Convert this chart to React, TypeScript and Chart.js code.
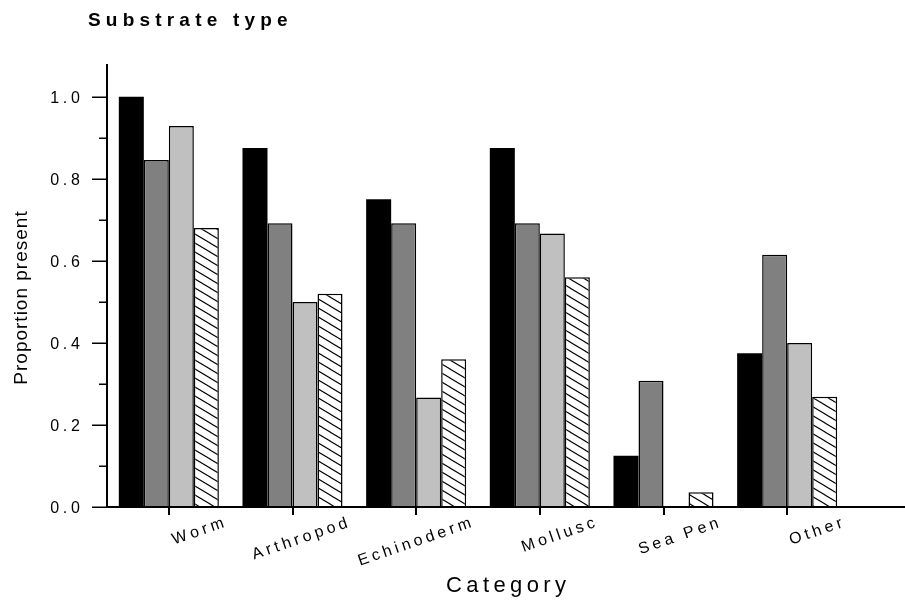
import React, { useEffect, useRef } from 'react';
import { Chart, registerables } from 'chart.js';

Chart.register(...registerables);

const categories = ['Worm', 'Arthropod', 'Echinoderm', 'Mollusc', 'Sea Pen', 'Other'];
const seriesBlack = [1.0, 0.875, 0.75, 0.875, 0.125, 0.375];
const seriesDark = [0.846, 0.692, 0.692, 0.692, 0.308, 0.615];
const seriesLight = [0.929, 0.5, 0.267, 0.667, 0, 0.4];
const seriesHatch = [0.68, 0.52, 0.36, 0.56, 0.036, 0.269];

const yMajorTicks = [0, 0.2, 0.4, 0.6, 0.8, 1.0];
const yTickLabels = ['0.0', '0.2', '0.4', '0.6', '0.8', '1.0'];
const yMinorTicks = [0.1, 0.3, 0.5, 0.7, 0.9];

const titleText = 'Substrate type';
const xTitleText = 'Category';
const yTitleText = 'Proportion present';

const FONT = '"Liberation Sans", Arial, sans-serif';

function spacedWidth(ctx: CanvasRenderingContext2D, text: string, spacing: number) {
  let w = 0;
  for (let i = 0; i < text.length; i++) {
    w += ctx.measureText(text[i]).width;
    if (i < text.length - 1) w += spacing;
  }
  return w;
}

function drawSpaced(
  ctx: CanvasRenderingContext2D,
  text: string,
  x: number,
  y: number,
  spacing: number,
  align: 'left' | 'right' | 'center'
) {
  const total = spacedWidth(ctx, text, spacing);
  let cx = x;
  if (align === 'right') cx = x - total;
  else if (align === 'center') cx = x - total / 2;
  ctx.textAlign = 'left';
  for (let i = 0; i < text.length; i++) {
    ctx.fillText(text[i], cx, y);
    cx += ctx.measureText(text[i]).width + spacing;
  }
}

function makeHatch(): CanvasPattern | string {
  const w = 15;
  const h = 9;
  const c = document.createElement('canvas');
  c.width = w;
  c.height = h;
  const g = c.getContext('2d');
  if (!g) return '#ffffff';
  g.fillStyle = '#ffffff';
  g.fillRect(0, 0, w, h);
  g.strokeStyle = '#000000';
  g.lineWidth = 1.1;
  g.beginPath();
  g.moveTo(-w, -h);
  g.lineTo(2 * w, 2 * h);
  g.moveTo(-w, 0);
  g.lineTo(w, 2 * h);
  g.moveTo(0, -h);
  g.lineTo(2 * w, h);
  g.stroke();
  const p = g.createPattern(c, 'repeat');
  return p || '#ffffff';
}

const decorPlugin = {
  id: 'decor',
  afterDraw(chart: any) {
    const ctx: CanvasRenderingContext2D = chart.ctx;
    const area = chart.chartArea;
    const xs = chart.scales.x;
    const ys = chart.scales.y;
    const W = chart.width;
    ctx.save();
    ctx.fillStyle = '#000';
    ctx.strokeStyle = '#000';

    // axes
    ctx.lineWidth = 2;
    ctx.beginPath();
    ctx.moveTo(area.left, area.top);
    ctx.lineTo(area.left, area.bottom);
    ctx.moveTo(area.left - 1, area.bottom);
    ctx.lineTo(W, area.bottom);
    ctx.stroke();

    // y ticks
    ctx.lineWidth = 1.5;
    ctx.beginPath();
    yMajorTicks.forEach((v) => {
      const y = Math.round(ys.getPixelForValue(v)) + 0.25;
      ctx.moveTo(area.left - 15, y);
      ctx.lineTo(area.left, y);
    });
    yMinorTicks.forEach((v) => {
      const y = Math.round(ys.getPixelForValue(v)) + 0.25;
      ctx.moveTo(area.left - 8, y);
      ctx.lineTo(area.left, y);
    });
    ctx.stroke();

    // x ticks
    ctx.lineWidth = 2;
    ctx.beginPath();
    categories.forEach((_, i) => {
      const x = Math.round(xs.getPixelForTick(i));
      ctx.moveTo(x, area.bottom);
      ctx.lineTo(x, area.bottom + 8);
    });
    ctx.stroke();

    // y tick labels
    ctx.font = `16px ${FONT}`;
    ctx.textBaseline = 'alphabetic';
    yMajorTicks.forEach((v, i) => {
      const y = ys.getPixelForValue(v);
      drawSpaced(ctx, yTickLabels[i], 80, y + 6, 3.8, 'right');
    });

    // x tick labels (rotated, right-anchored)
    ctx.font = `16px ${FONT}`;
    const ang = (-19 * Math.PI) / 180;
    categories.forEach((lab, i) => {
      const x = xs.getPixelForTick(i);
      ctx.save();
      ctx.translate(x + 56, area.bottom + 20);
      ctx.rotate(ang);
      drawSpaced(ctx, lab, 0, 0, 3.7, 'right');
      ctx.restore();
    });

    // title
    ctx.font = `bold 19px ${FONT}`;
    drawSpaced(ctx, titleText, 88, 26, 5.2, 'left');

    // x title
    ctx.font = `22px ${FONT}`;
    drawSpaced(ctx, xTitleText, (area.left + W) / 2, 592, 4.4, 'center');

    // y title
    ctx.font = `19px ${FONT}`;
    ctx.save();
    ctx.translate(27, 298);
    ctx.rotate(-Math.PI / 2);
    drawSpaced(ctx, yTitleText, 0, 0, 1, 'center');
    ctx.restore();

    ctx.restore();
  },
};

export default function App() {
  const ref = useRef<HTMLCanvasElement | null>(null);
  useEffect(() => {
    if (!ref.current) return;
    const hatch = makeHatch();
    const chart = new Chart(ref.current, {
      type: 'bar',
      data: {
        labels: categories,
        datasets: [
          { data: seriesBlack, backgroundColor: '#000000', borderColor: '#000000', borderWidth: 0 },
          { data: seriesDark, backgroundColor: '#808080', borderColor: '#000000', borderWidth: 1.5 },
          { data: seriesLight, backgroundColor: '#c0c0c0', borderColor: '#000000', borderWidth: 1.5 },
          { data: seriesHatch, backgroundColor: hatch as any, borderColor: '#000000', borderWidth: 1.5 },
        ],
      },
      options: {
        responsive: false,
        animation: false,
        devicePixelRatio: 1,
        layout: { padding: { left: 107, top: 64, right: 56, bottom: 94 } },
        datasets: { bar: { categoryPercentage: 0.809, barPercentage: 1.0 } },
        plugins: { legend: { display: false }, tooltip: { enabled: false }, title: { display: false } },
        scales: {
          x: { display: false, offset: true },
          y: { display: false, min: 0, max: 1.08 },
        },
      },
      plugins: [decorPlugin],
    });
    return () => chart.destroy();
  }, []);
  return (
    <div style={{ position: 'fixed', left: 0, top: 0, width: 905, height: 601, overflow: 'hidden', background: '#fff' }}>
      <canvas ref={ref} width={905} height={601} style={{ width: 905, height: 601, display: 'block' }} />
    </div>
  );
}
